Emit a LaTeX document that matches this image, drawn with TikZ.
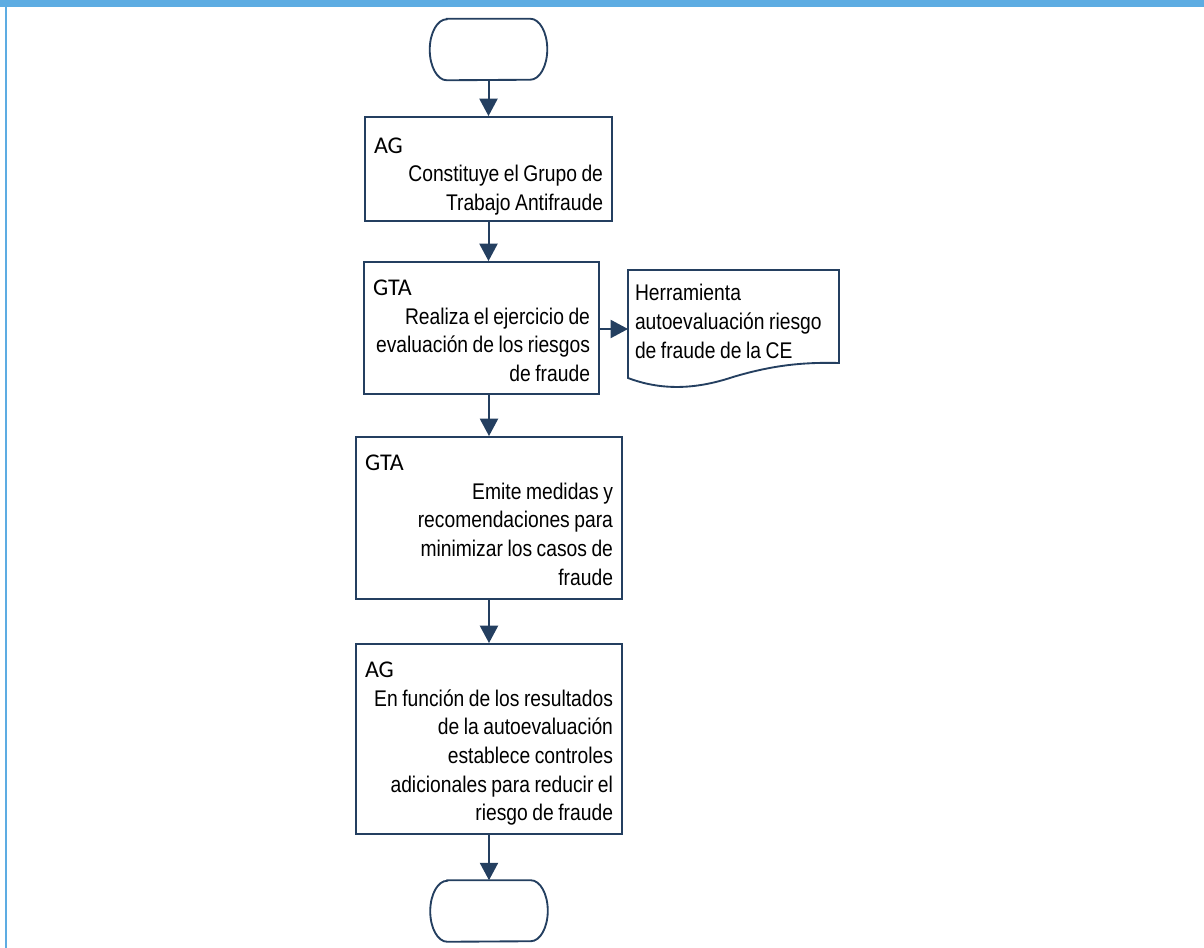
\documentclass[tikz,border=0pt]{standalone}
\usepackage{fontspec}
\setmainfont{Liberation Sans}[FakeStretch=0.85]
\newfontfamily\hdrfont{Carlito}
\usetikzlibrary{arrows.meta}
\definecolor{navy}{RGB}{36,63,96}
\definecolor{framebl}{RGB}{93,172,226}
% tight, fixed word spacing for the narrow body text
\newcommand{\tightsp}{\spaceskip=0.2em\relax}
\newcommand{\hdr}[1]{\tightsp\makebox[\hsize][l]{\hdrfont\fontsize{18pt}{21pt}\selectfont #1}}
% terminator outline with half-elliptic ends around a named node
\newcommand{\termoutline}[1]{%
  \draw[navy, line width=1.4pt]
    ([xshift=12.75pt]#1.north west) -- ([xshift=-12.75pt]#1.north east)
    arc[start angle=90, end angle=-90, x radius=12.75pt, y radius=22.875pt]
    -- ([xshift=12.75pt]#1.south west)
    arc[start angle=270, end angle=90, x radius=12.75pt, y radius=22.875pt]
    -- cycle;}
\tikzset{
  procbox/.style={draw=navy, line width=1.4pt, fill=white, rectangle, inner sep=0pt},
  proctext/.style={align=right, inner sep=0pt,
    font=\fontsize{17pt}{21.5pt}\selectfont},
  termbox/.style={rectangle, inner sep=0pt, minimum width=87.75pt, minimum height=45.75pt},
  flowarrow/.style={draw=navy, line width=1.5pt, -{Triangle[width=13.5pt,length=13pt]}},
  doctext/.style={align=left, inner sep=0pt, text width=150pt,
    font=\fontsize{17pt}{21.5pt}\selectfont}
}
\begin{document}
\begin{tikzpicture}[x=0.75pt, y=-0.75pt]
  \useasboundingbox (0,0) rectangle (1204,948);
  % frame
  \fill[framebl] (0,0) rectangle (1204,7);
  \fill[framebl] (5,7) rectangle (7,948);

  % start / end terminators
  \node[termbox] (start) at (488.5,49.5) {};
  \termoutline{start}
  \node[termbox] (stop) at (489,911) {};
  \termoutline{stop}

  % process steps: frames
  \node[procbox, minimum width=185.25pt, minimum height=78pt] (b1) at (488.5,169) {};
  \node[procbox, minimum width=176.25pt, minimum height=99pt] (b2) at (481.5,328) {};
  \node[procbox, minimum width=199.5pt, minimum height=121.5pt] (b3) at (489,518) {};
  \node[procbox, minimum width=199.5pt, minimum height=142.5pt] (b4) at (489,739) {};

  % process steps: texts
  \node[proctext, text width=171.75pt, yshift=-5.5pt] (t1) at (b1.center)
    {\hdr{AG}\\Constituye el Grupo de\\Trabajo Antifraude};
  \node[proctext, text width=162.75pt, yshift=-2pt] (t2) at (b2.center)
    {\hdr{GTA}\\Realiza el ejercicio de\\evaluación de los riesgos\\de fraude};
  \node[proctext, text width=186pt, yshift=-1.5pt] (t3) at (b3.center)
    {\hdr{GTA}\\Emite medidas y\\recomendaciones para\\minimizar los casos de\\fraude};
  \node[proctext, text width=186pt, yshift=-3.5pt] (t4) at (b4.center)
    {\hdr{AG}\\En función de los resultados\\de la autoevaluación\\establece controles\\adicionales para reducir el\\riesgo de fraude};

  % document
  \draw[navy, line width=1.4pt, fill=white]
    (628,270) -- (839,270) -- (839,363)
    .. controls (800,362) and (770,366) .. (733,377)
    .. controls (700,388) and (665,392) .. (628,378) -- cycle;
  \node[doctext] (doc) at (735,321.5)
    {\tightsp Herramienta\\autoevaluación riesgo\\de fraude de la CE};
  \coordinate (docin) at (628,329);

  % connectors
  \draw[flowarrow] (start.south) -- (b1.north);
  \draw[flowarrow] (b1.south) -- (b1.south |- b2.north);
  \draw[flowarrow] (b3.north |- b2.south) -- (b3.north);
  \draw[flowarrow] (b3.south) -- (b4.north);
  \draw[flowarrow] (b4.south) -- (stop.north);
  \draw[flowarrow] (b2.east |- docin) -- (docin);
\end{tikzpicture}
\end{document}
